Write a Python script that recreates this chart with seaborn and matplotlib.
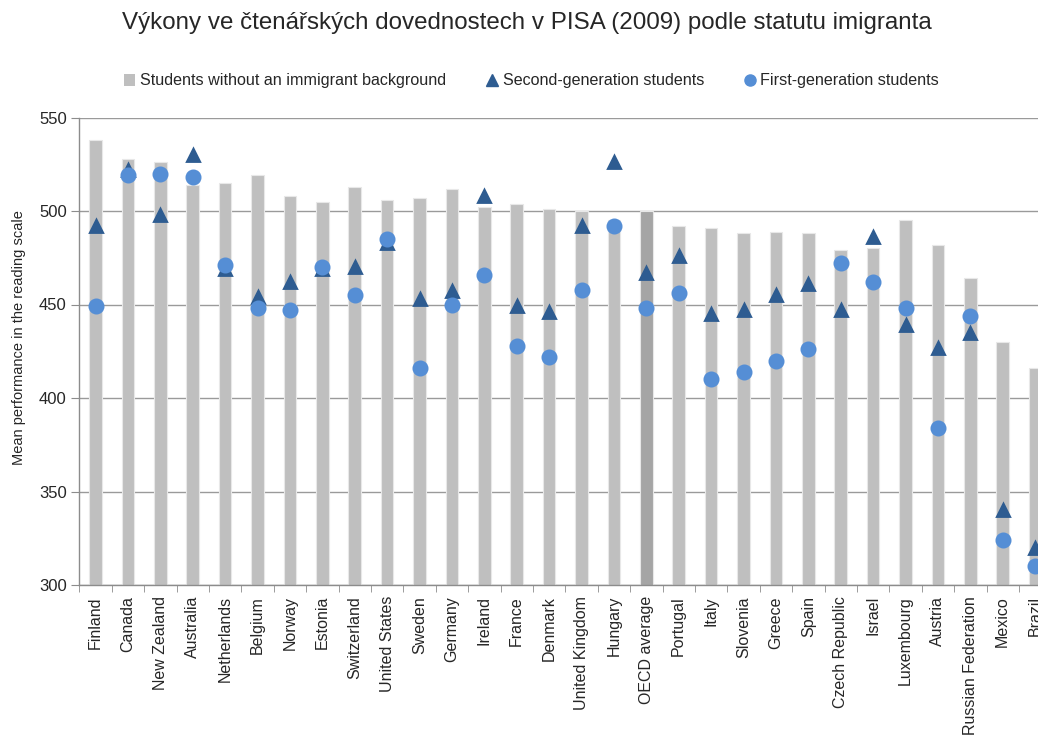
import matplotlib
matplotlib.use("Agg")
import matplotlib.pyplot as plt
import seaborn as sns
import pandas as pd
from matplotlib.lines import Line2D
from matplotlib.patches import Patch
from matplotlib.ticker import MultipleLocator, FixedLocator

# PISA 2009 reading scores by immigrant status
countries = ["Finland", "Canada", "New Zealand", "Australia", "Netherlands", "Belgium",
             "Norway", "Estonia", "Switzerland", "United States", "Sweden", "Germany",
             "Ireland", "France", "Denmark", "United Kingdom", "Hungary", "OECD average",
             "Portugal", "Italy", "Slovenia", "Greece", "Spain", "Czech Republic", "Israel",
             "Luxembourg", "Austria", "Russian Federation", "Mexico", "Brazil"]
native = [538, 528, 526, 514, 515, 519, 508, 505, 513, 506, 507, 512, 502, 504, 501,
          500, 495, 500, 492, 491, 488, 489, 488, 479, 480, 495, 482, 464, 430, 416]
second_gen = [492, 522, 498, 530, 469, 454, 462, 469, 470, 483, 453, 457, 508, 449, 446,
              492, 526, 467, 476, 445, 447, 455, 461, 447, 486, 439, 427, 435, 340, 320]
first_gen = [449, 519, 520, 518, 471, 448, 447, 470, 455, 485, 416, 450, 466, 428, 422,
             458, 492, 448, 456, 410, 414, 420, 426, 472, 462, 448, 384, 444, 324, 310]

title = "Výkony ve čtenářských dovednostech v PISA (2009) podle statutu imigranta"
ylabel = "Mean performance in the reading scale"
legend_labels = ["Students without an immigrant background",
                 "Second-generation students", "First-generation students"]

df = pd.DataFrame({"country": countries, "native": native,
                   "second": second_gen, "first": first_gen})

bar_grey = "#BFBFBF"
oecd_grey = "#A5A5A5"
tri_col = "#2E5C91"
dot_col = "#558ED5"

sns.set_style("white")
plt.rcParams["font.family"] = ["Liberation Sans", "DejaVu Sans"]

fig = plt.figure(figsize=(10.38, 7.35), dpi=100)
# axes runs off the right edge, like the cropped original
ax = fig.add_axes([79.3 / 1038, 1 - 585 / 735, 972 / 1038, (585 - 117.5) / 735])

bar_cols = [oecd_grey if c == "OECD average" else bar_grey for c in countries]
sns.barplot(data=df, x="country", y="native", hue="country", palette=bar_cols,
            legend=False, width=0.39, edgecolor="#E8E8E8", linewidth=0.8, ax=ax, zorder=2)
sns.pointplot(data=df, x="country", y="second", linestyle="none", markers="^",
              color=tri_col, markersize=9, ax=ax, zorder=3)
sns.pointplot(data=df, x="country", y="first", linestyle="none", markers="o",
              color=dot_col, markersize=9.5, ax=ax, zorder=4)

ax.set_ylim(300, 550)
ax.set_xlim(-0.5, 29.5)
ax.yaxis.set_major_locator(MultipleLocator(50))
ax.grid(axis="y", color="#9A9A9A", linewidth=1, zorder=0)
ax.set_axisbelow(True)

for s in ["top", "right"]:
    ax.spines[s].set_visible(False)
for s in ["left", "bottom"]:
    ax.spines[s].set_color("#8C8C8C")
    ax.spines[s].set_linewidth(1)

ax.set_xticks(range(len(countries)))
ax.set_xticklabels(countries, rotation=90, fontsize=11.5)
ax.tick_params(axis="x", which="major", length=0, pad=8)
ax.xaxis.set_minor_locator(FixedLocator([i - 0.5 for i in range(len(countries) + 1)]))
ax.tick_params(axis="x", which="minor", length=5, color="#8C8C8C", direction="out", bottom=True)
ax.tick_params(axis="y", length=6, color="#8C8C8C", direction="out", left=True,
               labelsize=12, pad=3)
ax.set_xlabel("")
ax.set_ylabel(ylabel, fontsize=10.5)
ax.yaxis.set_label_coords(-0.055, 0.53)

fig.text(0.508, 1 - 23 / 735, title, ha="center", va="center", fontsize=17.4)

handles = [Patch(facecolor=bar_grey, edgecolor="none"),
           Line2D([], [], marker="^", linestyle="none", color=tri_col, markersize=8),
           Line2D([], [], marker="o", linestyle="none", color=dot_col, markersize=8)]
fig.legend(handles, legend_labels, loc="center", bbox_to_anchor=(0.512, 1 - 81 / 735),
           ncol=3, frameon=False, fontsize=11.6, handlelength=0.7, handletextpad=0.3,
           columnspacing=2.5)

fig.savefig("out.png", dpi=100)
